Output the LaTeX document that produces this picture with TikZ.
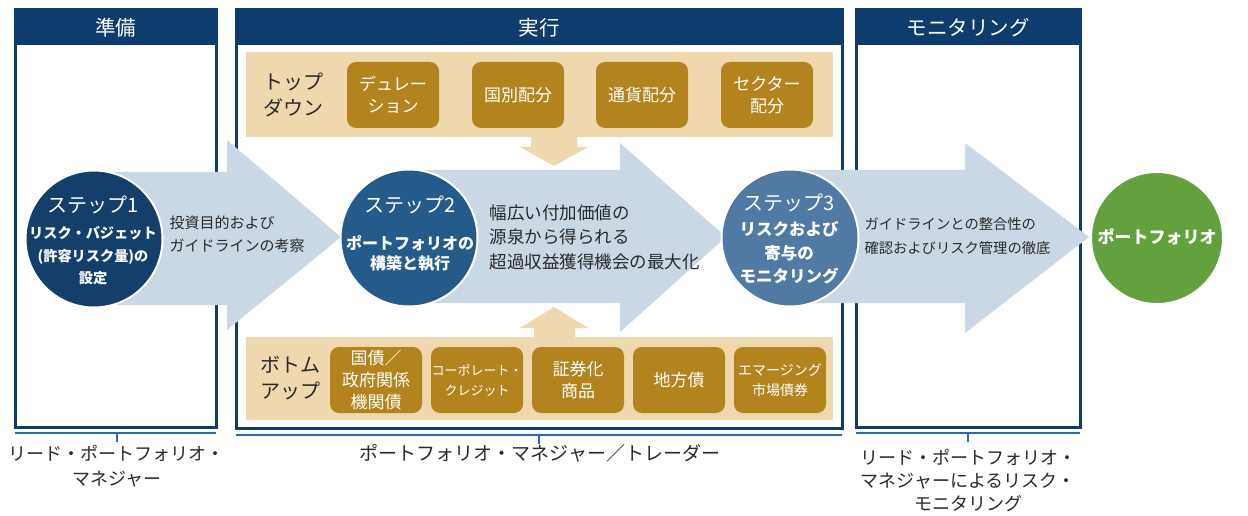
\documentclass[tikz,border=0pt]{standalone}
\usepackage{fontspec}
\setmainfont{Noto Sans CJK JP}
\definecolor{navy}{HTML}{0F3C6E}
\definecolor{tanband}{HTML}{EFD8AE}
\definecolor{boxbrown}{HTML}{B3841E}
\definecolor{arrowblue}{HTML}{C9D8E4}
\definecolor{circA}{HTML}{133F6A}
\definecolor{circB}{HTML}{245B8A}
\definecolor{circC}{HTML}{5079A3}
\definecolor{pfgreen}{HTML}{63A13F}
\definecolor{bracketblue}{HTML}{2E68B0}
\definecolor{textdark}{HTML}{2A2A2A}
\begin{document}
\begin{tikzpicture}[x=1pt,y=-1pt,
  panel/.style={draw=navy,line width=3pt,fill=white},
  headbar/.style={fill=navy},
  headtext/.style={text=white,font=\fontsize{20.5}{20.5}\selectfont},
  band/.style={fill=tanband},
  catbox/.style={fill=boxbrown,rounded corners=9pt,text=white,align=center,inner sep=0pt,minimum width=92pt,minimum height=66pt,font=\fontsize{17}{22}\selectfont},
  bandlabel/.style={text=textdark,align=center,font=\fontsize{20}{26}\selectfont},
  flowarrow/.style={fill=arrowblue},
  tanarrow/.style={fill=tanband},
  stepcircle/.style={circle,draw=white,line width=2pt,minimum size=137pt,inner sep=0pt},
  circtext/.style={text=white,align=center},
  arrowtext/.style={text=textdark,align=left,anchor=west},
  bracket/.style={draw=bracketblue,line width=2.5pt},
  roletext/.style={text=textdark,align=center,font=\fontsize{18}{25}\selectfont}
]
\useasboundingbox (0,0) rectangle (1248,516);
\fill[white] (0,0) rectangle (1248,516);

% panels
\draw[panel] (15,10) rectangle (216,427);
\fill[headbar] (15,10) rectangle (216,45);
\draw[panel] (236,10) rectangle (842,428);
\fill[headbar] (236,10) rectangle (842,45);
\draw[panel] (856,10) rectangle (1080,427);
\fill[headbar] (856,10) rectangle (1080,45);
\node[headtext] (h1) at (115.5,28) {準備};
\node[headtext] (h2) at (539,28) {実行};
\node[headtext] (h3) at (968,28) {モニタリング};

% tan bands
\fill[band] (246,52) rectangle (833,137);
\fill[band] (246,337) rectangle (833,420);
\node[bandlabel] (tdl) at (293,95) {トップ\\ダウン};
\node[bandlabel] (bul) at (290,378) {ボトム\\アップ};
\node[catbox] (tb1) at (393,95) {デュレー\\ション};
\node[catbox] (tb2) at (518,95) {国別配分};
\node[catbox] (tb3) at (642,95) {通貨配分};
\node[catbox] (tb4) at (767,95) {セクター\\配分};
\node[catbox] (bb1) at (376,380) {国債／\\政府関係\\機関債};
\node[catbox,font=\fontsize{13}{20}\selectfont] (bb2) at (477,380) {コーポレート・\\クレジット};
\node[catbox] (bb3) at (578,380) {証券化\\商品};
\node[catbox] (bb4) at (679,380) {地方債};
\node[catbox,font=\fontsize{14}{20}\selectfont] (bb5) at (780,380) {エマージング\\市場債券};

% small tan arrows
\fill[tanarrow] (531,136) -- (577,136) -- (577,147) -- (588,147) -- (554,166) -- (520,147) -- (531,147) -- cycle;
\fill[tanarrow] (534,338) -- (575,338) -- (575,328) -- (588,328) -- (554,307) -- (520,328) -- (534,328) -- cycle;

% big flow arrows
\fill[flowarrow] (100,172) -- (227,172) -- (227,140) -- (341,237) -- (227,330) -- (227,305) -- (100,305) -- cycle;
\fill[flowarrow] (410,170) -- (620,170) -- (620,143) -- (726,237) -- (620,332) -- (620,303) -- (410,303) -- cycle;
\fill[flowarrow] (790,170) -- (965,170) -- (965,143) -- (1089,237) -- (965,333) -- (965,303) -- (790,303) -- cycle;

% circles
\node[stepcircle,fill=circA] (s1) at (94,239) {};
\node[stepcircle,fill=circB] (s2) at (409,238) {};
\node[stepcircle,fill=circC] (s3) at (790,238) {};
\node[stepcircle,fill=pfgreen,minimum size=132pt] (pf) at (1157,238) {};

\node[circtext,font=\fontsize{20}{20}\selectfont] (t1a) at (93,205) {ステップ1};
\node[circtext,font=\bfseries\fontsize{14.2}{22.5}\selectfont] (t1b) at (93,256) {リスク・バジェット\\(許容リスク量)の\\設定};
\node[circtext,font=\fontsize{20}{20}\selectfont] (t2a) at (410,205) {ステップ2};
\node[circtext,font=\bfseries\fontsize{16}{20}\selectfont] (t2b) at (410,253) {ポートフォリオの\\構築と執行};
\node[circtext,font=\fontsize{20}{20}\selectfont] (t3a) at (789,203) {ステップ3};
\node[circtext,font=\bfseries\fontsize{16.5}{23.5}\selectfont] (t3b) at (789,253) {リスクおよび\\寄与の\\モニタリング};
\node[circtext,font=\bfseries\fontsize{17}{17}\selectfont] (pft) at (1157,237) {ポートフォリオ};

% arrow texts
\node[arrowtext,font=\fontsize{15}{23}\selectfont] (at1) at (166,234) {投資目的および\\ガイドラインの考察};
\node[arrowtext,font=\fontsize{17.5}{24.5}\selectfont] (at2) at (486,237) {幅広い付加価値の\\源泉から得られる\\超過収益獲得機会の最大化};
\node[arrowtext,font=\fontsize{14.3}{24}\selectfont] (at3) at (861,236) {ガイドラインとの整合性の\\確認およびリスク管理の徹底};

% brackets and roles
\coordinate (b1) at (117,433);
\coordinate (b2) at (539,435);
\coordinate (b3) at (968,433);
\draw[bracket] (15,433) -- (216,433);
\draw[bracket] (236,435) -- (842,435);
\draw[bracket] (856,433) -- (1080,433);
\draw[bracket] (b1) -- ++(0,9);
\draw[bracket] (b2) -- ++(0,9);
\draw[bracket] (b3) -- ++(0,9);
\node[roletext] (r1) at (117,466) {リード・ポートフォリオ・\\マネジャー};
\node[roletext,font=\fontsize{19}{19}\selectfont] (r2) at (540,453) {ポートフォリオ・マネジャー／トレーダー};
\node[roletext,font=\fontsize{18}{23}\selectfont] (r3) at (968,480) {リード・ポートフォリオ・\\マネジャーによるリスク・\\モニタリング};
\end{tikzpicture}
\end{document}
